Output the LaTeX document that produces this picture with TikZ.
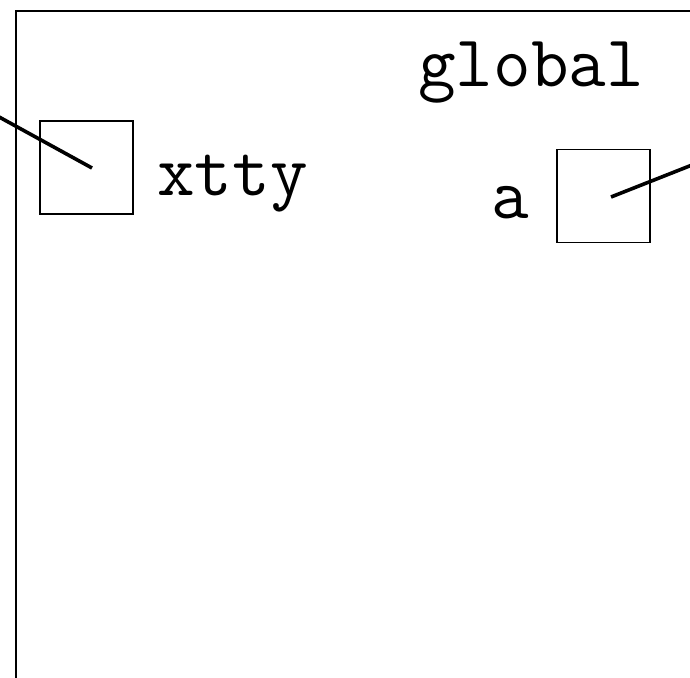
\documentclass[tikz,border=0pt]{standalone}
\begin{document}
\begin{tikzpicture}[x=1pt,y=1pt,
  frame/.style={draw=black,line width=2pt},
  cell/.style={draw=black,line width=1.8pt,minimum size=93pt,inner sep=0pt,outer sep=0pt},
  lbl/.style={font=\ttfamily\fontsize{73}{73}\selectfont,inner sep=0pt,anchor=base},
  ptr/.style={draw=black,line width=3.6pt}]
\useasboundingbox (0,0) rectangle (690,-677);
\clip (0,0) rectangle (690,-677);
% scope frame
\draw[frame] (15.5,-11.5) rectangle (760,-760);
\node[lbl] (title) at (531,-86) {global};
% variables
\node[cell] (xbox) at (86.5,-167.5) {};
\node[lbl] (xname) at (232.5,-195) {xtty};
\node[cell] (abox) at (603.5,-196) {};
\node[lbl] (aname) at (510,-218) {a};
% pointers
\coordinate (xin) at (92,-168);
\coordinate (xsrc) at (-30,-101);
\coordinate (aout) at (611,-197);
\coordinate (adst) at (730,-150);
\draw[ptr] (xsrc) -- (xin);
\draw[ptr] (aout) -- (adst);
\end{tikzpicture}
\end{document}
